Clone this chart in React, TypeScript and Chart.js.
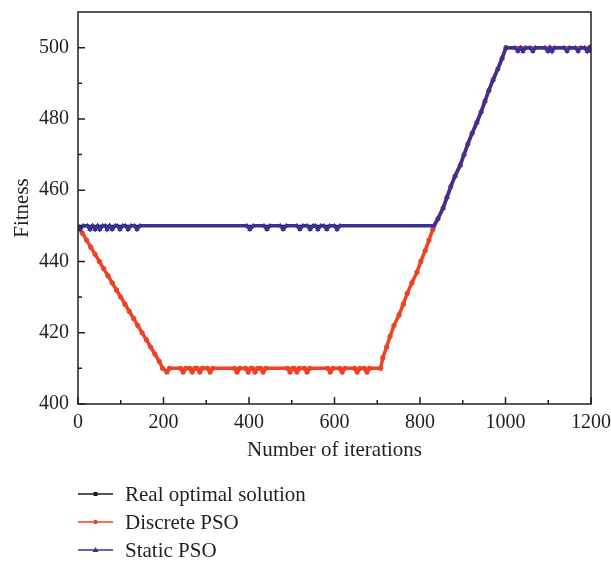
import { useEffect, useRef } from 'react';
import { Chart, registerables } from 'chart.js';

Chart.register(...registerables);

const xTickValues = [0, 200, 400, 600, 800, 1000, 1200];
const xMinorTicks = [100, 300, 500, 700, 900, 1100];
const yTickValues = [400, 420, 440, 460, 480, 500];
const yMinorTicks = [410, 430, 450, 470, 490];

const seriesNames = ['Real optimal solution', 'Discrete PSO', 'Static PSO'];

const realIter = [0, 832, 842, 854, 863, 872, 882, 894, 903, 912, 922, 933, 943, 952, 961, 971, 982, 992, 1001, 1200];
const realValue = [450, 450, 452, 455, 458, 461, 464, 467, 470, 473, 476, 479, 482, 485, 488, 491, 494, 497, 500, 500];

const discreteIter = [
  0, 10, 20, 30, 40, 50, 60, 70, 80, 90, 100, 110, 120, 130, 140, 150, 160, 170, 180, 190, 198,
  208, 214, 240, 246, 252, 261, 267, 273, 279, 285, 291, 303, 309, 315, 366, 372, 378, 392, 398, 404,
  408, 414, 420, 427, 433, 439, 490, 496, 502, 506, 512, 518, 530, 536, 542, 584, 590, 596, 612, 618,
  624, 647, 653, 659, 670, 676, 682, 708, 713, 722, 730, 739, 751, 761, 770, 781, 793, 802, 812, 821,
  830, 842, 854, 863, 872, 882, 894, 903, 912, 922, 933, 943, 952, 961, 971, 982, 992, 1001, 1200,
];
const discreteValue = [
  449.5, 448, 446, 444, 442, 440, 438, 436, 434, 432, 430, 428, 426, 424, 422, 420, 418, 416, 414, 412, 410,
  409, 410, 410, 409, 410, 410, 409, 410, 410, 409, 410, 410, 409, 410, 410, 409, 410, 410, 409, 410,
  410, 409, 410, 410, 409, 410, 410, 409, 410, 410, 409, 410, 410, 409, 410, 410, 409, 410, 410, 409,
  410, 410, 409, 410, 410, 409, 410, 410, 413, 416, 419, 422, 425, 428, 431, 434, 437, 440, 443, 446,
  449, 452, 455, 458, 461, 464, 467, 470, 473, 476, 479, 482, 485, 488, 491, 494, 497, 500, 500,
];

const staticIter = [
  0, 5, 12, 22, 28, 34, 40, 46, 51, 58, 64, 68, 74, 80, 87, 92, 98, 105, 111, 117, 124, 132, 138, 145,
  395, 402, 410, 435, 442, 449, 473, 480, 487, 512, 519, 526, 536, 543, 550, 555, 561, 568, 575, 582, 589,
  600, 606, 613, 832, 842, 854, 863, 872, 882, 894, 903, 912, 922, 933, 943, 952, 961, 971, 982, 992, 1001,
  1022, 1029, 1035, 1041, 1047, 1057, 1064, 1070, 1092, 1099, 1104, 1109, 1115, 1137, 1144, 1150, 1163,
  1170, 1176, 1185, 1191, 1196, 1200,
];
const staticValue = [
  449.5, 449, 450, 450, 449, 450, 449, 450, 449, 450, 450, 449, 450, 449, 450, 450, 449, 450, 450, 449, 450, 450, 449, 450,
  450, 449, 450, 450, 449, 450, 450, 449, 450, 450, 449, 450, 450, 449, 450, 450, 449, 450, 450, 449, 450,
  450, 449, 450, 450, 452, 455, 458, 461, 464, 467, 470, 473, 476, 479, 482, 485, 488, 491, 494, 497, 500,
  500, 499, 500, 499, 500, 500, 499, 500, 500, 499, 500, 499, 500, 500, 499, 500, 500,
  499, 500, 500, 499, 500, 499,
];

const FONT = '"Liberation Serif", "Times New Roman", serif';
const TEXT = '#231f20';
const BLACK = '#1a1a1a';
const RED = '#ee4227';
const BLUE = '#3a3198';

const toPoints = (xs: number[], ys: number[]) => xs.map((x, i) => ({ x, y: ys[i] }));

const framePlugin = {
  id: 'frameTicks',
  afterDraw(chart: any) {
    const { ctx, chartArea } = chart;
    const { left, right, top, bottom } = chartArea;
    const xs = chart.scales.x;
    const ys = chart.scales.y;
    ctx.save();
    ctx.strokeStyle = TEXT;
    ctx.lineWidth = 1.5;
    ctx.strokeRect(left, top, right - left, bottom - top);
    ctx.beginPath();
    yTickValues.forEach((v) => {
      const p = ys.getPixelForValue(v);
      ctx.moveTo(left, p);
      ctx.lineTo(left + 7, p);
    });
    yMinorTicks.forEach((v) => {
      const p = ys.getPixelForValue(v);
      ctx.moveTo(left, p);
      ctx.lineTo(left + 4, p);
    });
    xTickValues.forEach((v) => {
      const p = xs.getPixelForValue(v);
      ctx.moveTo(p, bottom);
      ctx.lineTo(p, bottom - 7);
    });
    xMinorTicks.forEach((v) => {
      const p = xs.getPixelForValue(v);
      ctx.moveTo(p, bottom);
      ctx.lineTo(p, bottom - 4);
    });
    ctx.stroke();

    // legend
    const colors = [BLACK, RED, BLUE];
    const rowY = [494, 522, 550];
    seriesNames.forEach((name, i) => {
      const y = rowY[i];
      ctx.strokeStyle = colors[i];
      ctx.fillStyle = colors[i];
      ctx.lineWidth = 1.5;
      ctx.beginPath();
      ctx.moveTo(78, y);
      ctx.lineTo(113, y);
      ctx.stroke();
      const cx = 95.5;
      ctx.beginPath();
      if (i === 0) {
        ctx.rect(cx - 2, y - 2, 4, 4);
      } else if (i === 1) {
        ctx.arc(cx, y, 2.2, 0, Math.PI * 2);
      } else {
        ctx.moveTo(cx, y - 3);
        ctx.lineTo(cx + 3, y + 2);
        ctx.lineTo(cx - 3, y + 2);
        ctx.closePath();
      }
      ctx.fill();
      ctx.fillStyle = TEXT;
      ctx.font = `21px ${FONT}`;
      ctx.textBaseline = 'middle';
      ctx.textAlign = 'left';
      ctx.fillText(name, 125, y + 1);
    });
    ctx.restore();
  },
};

export default function App() {
  const ref = useRef<HTMLCanvasElement | null>(null);

  useEffect(() => {
    if (!ref.current) return;
    const chart = new Chart(ref.current, {
      type: 'line',
      data: {
        datasets: [
          {
            label: seriesNames[0],
            data: toPoints(realIter, realValue),
            borderColor: BLACK,
            backgroundColor: BLACK,
            borderWidth: 2,
            pointStyle: 'rect',
            pointRadius: 2,
            pointBorderWidth: 0,
            order: 2,
          },
          {
            label: seriesNames[1],
            data: toPoints(discreteIter, discreteValue),
            borderColor: RED,
            backgroundColor: RED,
            borderWidth: 3.5,
            pointStyle: 'circle',
            pointRadius: 2.6,
            pointBorderWidth: 0,
            order: 1,
          },
          {
            label: seriesNames[2],
            data: toPoints(staticIter, staticValue),
            borderColor: BLUE,
            backgroundColor: BLUE,
            borderWidth: 3.5,
            pointStyle: 'triangle',
            pointRadius: 3,
            pointBorderWidth: 0,
            order: 0,
          },
        ],
      },
      options: {
        responsive: false,
        animation: false,
        devicePixelRatio: 1,
        layout: { padding: { left: 0, top: 12, right: 20, bottom: 97 } },
        elements: { line: { tension: 0 } },
        plugins: { legend: { display: false }, tooltip: { enabled: false } },
        scales: {
          x: {
            type: 'linear',
            min: 0,
            max: 1200,
            afterBuildTicks: (s: any) => {
              s.ticks = xTickValues.map((v) => ({ value: v }));
            },
            afterFit: (s: any) => {
              s.height = 63;
              s.paddingLeft = 0;
              s.paddingRight = 0;
            },
            grid: { display: false, drawTicks: false },
            border: { display: false },
            ticks: {
              padding: 7,
              maxRotation: 0,
              autoSkip: false,
              color: TEXT,
              font: { family: FONT, size: 20 },
              callback: (v: any) => String(v),
            },
            title: {
              display: true,
              text: 'Number of iterations',
              color: TEXT,
              font: { family: FONT, size: 21 },
              padding: { top: 4, bottom: 4 },
            },
          },
          y: {
            type: 'linear',
            min: 400,
            max: 510,
            afterBuildTicks: (s: any) => {
              s.ticks = yTickValues.map((v) => ({ value: v }));
            },
            afterFit: (s: any) => {
              s.width = 78;
              s.paddingTop = 0;
              s.paddingBottom = 0;
            },
            grid: { display: false, drawTicks: false },
            border: { display: false },
            ticks: {
              padding: 9,
              color: TEXT,
              font: { family: FONT, size: 20 },
              callback: (v: any) => String(v),
            },
            title: {
              display: true,
              text: 'Fitness',
              color: TEXT,
              font: { family: FONT, size: 21 },
              padding: { top: 10, bottom: 4 },
            },
          },
        },
      },
      plugins: [framePlugin],
    });
    return () => chart.destroy();
  }, []);

  return (
    <div style={{ position: 'fixed', left: 0, top: 0, width: 611, height: 564, background: '#fff' }}>
      <canvas ref={ref} width={611} height={564} style={{ width: 611, height: 564, display: 'block' }} />
    </div>
  );
}
